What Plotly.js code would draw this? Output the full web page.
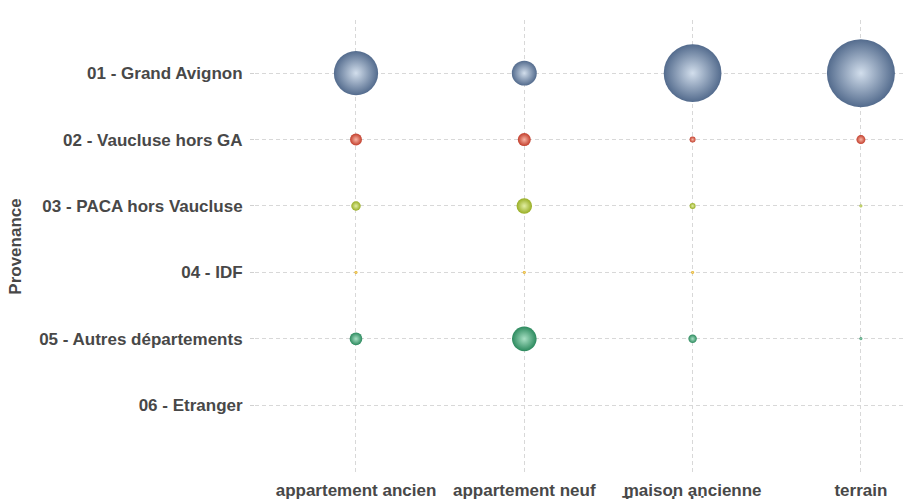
<!DOCTYPE html>
<html>
<head>
<meta charset="utf-8">
<script src="https://cdn.plot.ly/plotly-3.0.1.min.js"></script>
<style>
html,body{margin:0;padding:0;background:#fff;}
#chart{width:904px;height:499px;}
</style>
</head>
<body>
<div id="chart"></div>
<script>
// Data
var typesDeBien = ["appartement ancien", "appartement neuf", "maison ancienne", "terrain"];
var provenances = ["01 - Grand Avignon", "02 - Vaucluse hors GA", "03 - PACA hors Vaucluse", "04 - IDF", "05 - Autres départements", "06 - Etranger"];
var grandAvignon   = [220, 70, 375, 520];
var vauclHorsGA    = [16, 19, 4, 9];
var pacaHorsVaucl  = [10, 27, 4, 1];
var idf            = [1, 1, 1, 0];
var autresDeps     = [18, 68, 8, 1];
var etranger       = [0, 0, 0, 0];

var seriesValues = [grandAvignon, vauclHorsGA, pacaHorsVaucl, idf, autresDeps, etranger];

// styles
var edgeColors   = ["#536b8d", "#c23e2c", "#98ae24", "#e0a818", "#2c8a5e", "#888888"];
var centerColors = ["#d2deec", "#f8b4a4", "#e2eea4", "#f8e090", "#a8e0c4", "#dddddd"];

var maxVal = 0;
seriesValues.forEach(function(a){ a.forEach(function(v){ if (v > maxVal) maxVal = v; }); });
var maxDiameter = 68;
var sizeref = 2 * maxVal / (maxDiameter * maxDiameter);

var traces = provenances.map(function(p, i){
  return {
    type: "scatter",
    mode: "markers",
    x: typesDeBien,
    y: typesDeBien.map(function(){ return p; }),
    marker: {
      size: seriesValues[i],
      sizemode: "area",
      sizeref: sizeref,
      opacity: 1,
      color: edgeColors[i],
      gradient: {type: "radial", color: centerColors[i]},
      line: {width: 0}
    },
    hoverinfo: "x+y",
    showlegend: false,
    cliponaxis: false
  };
});

var tickFont = {family: "Liberation Sans, Arial, sans-serif", size: 17, color: "#484848", weight: "bold"};

var layout = {
  width: 904,
  height: 499,
  margin: {l: 255, r: 0, t: 20, b: 26, pad: 0},
  paper_bgcolor: "#ffffff",
  plot_bgcolor: "#ffffff",
  font: tickFont,
  xaxis: {
    type: "category",
    categoryorder: "array",
    categoryarray: typesDeBien,
    range: [-0.6, 3.256],
    showgrid: true,
    gridcolor: "#d8d8d8",
    griddash: "4px,3px",
    gridwidth: 1,
    zeroline: false,
    showline: false,
    ticks: "",
    ticklabelstandoff: 5,
    tickfont: tickFont,
    automargin: false,
    fixedrange: true
  },
  yaxis: {
    type: "category",
    categoryorder: "array",
    categoryarray: provenances,
    range: [6.02, -0.8],
    showgrid: true,
    gridcolor: "#d8d8d8",
    griddash: "4px,3px",
    gridwidth: 1,
    zeroline: false,
    showline: false,
    ticks: "outside",
    ticklen: 4,
    tickcolor: "#d0d0d0",
    ticklabelstandoff: 4,
    tickfont: tickFont,
    title: {text: "Provenance", font: tickFont, standoff: 13},
    automargin: false,
    fixedrange: true
  },
  annotations: [{
    text: "Type de bien",
    xref: "paper", yref: "paper",
    x: (620 - 255) / 649, xanchor: "left",
    y: -0.0396, yanchor: "top",
    showarrow: false,
    font: tickFont
  }]
};

Plotly.newPlot("chart", traces, layout, {displayModeBar: false, staticPlot: true});
</script>
</body>
</html>
